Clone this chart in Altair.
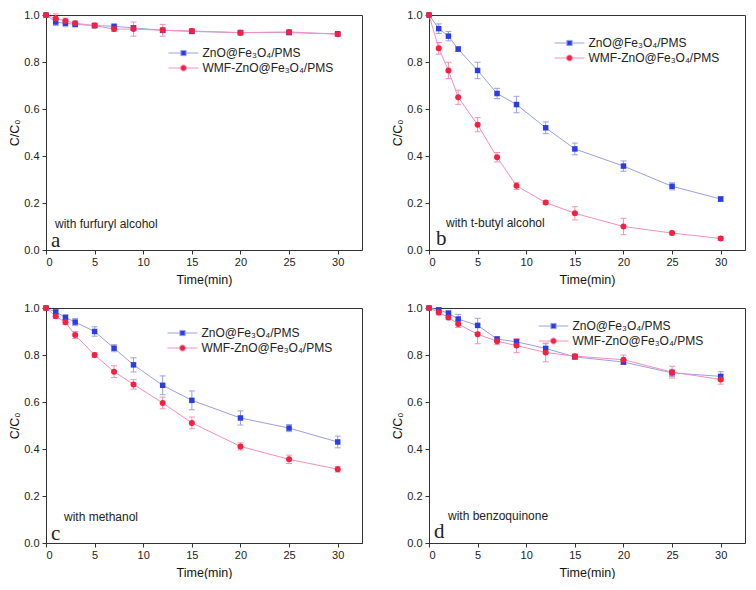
import altair as alt
import pandas as pd

time = [0, 1, 2, 3, 5, 7, 9, 12, 15, 20, 25, 30]
series_names = ["ZnO@Fe₃O₄/PMS", "WMF-ZnO@Fe₃O₄/PMS"]
series_keys = ["zno", "wmf"]

# panel a: with furfuryl alcohol
a_zno = [1.0, 0.97, 0.965, 0.96, 0.955, 0.952, 0.945, 0.935, 0.93, 0.925, 0.925, 0.92]
a_zno_err = [0, 0.015, 0.015, 0.01, 0.008, 0.006, 0.01, 0.01, 0.008, 0.006, 0.008, 0.006]
a_wmf = [1.0, 0.985, 0.975, 0.965, 0.955, 0.94, 0.94, 0.935, 0.932, 0.925, 0.928, 0.918]
a_wmf_err = [0, 0.02, 0.012, 0.01, 0.01, 0.01, 0.03, 0.025, 0.01, 0.01, 0.01, 0.008]

# panel b: with t-butyl alcohol
b_zno = [1.0, 0.942, 0.91, 0.855, 0.764, 0.666, 0.619, 0.52, 0.43, 0.357, 0.271, 0.217]
b_zno_err = [0, 0.02, 0.02, 0.01, 0.035, 0.022, 0.035, 0.025, 0.025, 0.022, 0.015, 0.01]
b_wmf = [1.0, 0.858, 0.764, 0.65, 0.533, 0.395, 0.273, 0.202, 0.156, 0.10, 0.072, 0.049]
b_wmf_err = [0, 0.025, 0.035, 0.03, 0.03, 0.02, 0.015, 0.008, 0.028, 0.035, 0.008, 0.008]

# panel c: with methanol
c_zno = [1.0, 0.983, 0.96, 0.94, 0.9, 0.829, 0.758, 0.671, 0.607, 0.532, 0.489, 0.43]
c_zno_err = [0, 0.01, 0.01, 0.015, 0.02, 0.015, 0.03, 0.04, 0.04, 0.03, 0.015, 0.025]
c_wmf = [1.0, 0.965, 0.939, 0.885, 0.8, 0.729, 0.675, 0.596, 0.511, 0.411, 0.356, 0.314]
c_wmf_err = [0, 0.01, 0.01, 0.015, 0.01, 0.025, 0.02, 0.025, 0.025, 0.015, 0.018, 0.012]

# panel d: with benzoquinone
d_zno = [1.0, 0.992, 0.978, 0.953, 0.926, 0.868, 0.856, 0.828, 0.792, 0.77, 0.724, 0.709]
d_zno_err = [0, 0.01, 0.01, 0.02, 0.03, 0.01, 0.01, 0.02, 0.01, 0.01, 0.015, 0.02]
d_wmf = [1.0, 0.981, 0.96, 0.932, 0.888, 0.859, 0.84, 0.811, 0.795, 0.78, 0.727, 0.696]
d_wmf_err = [0, 0.01, 0.01, 0.015, 0.04, 0.015, 0.03, 0.04, 0.01, 0.02, 0.025, 0.02]

panel_letters = ["a", "b", "c", "d"]
panel_notes = ["with furfuryl alcohol", "with t-butyl alcohol", "with methanol", "with benzoquinone"]
x_ticks = [0, 2.5, 5, 7.5, 10, 12.5, 15, 17.5, 20, 22.5, 25, 27.5, 30]
y_ticks = [0, 0.1, 0.2, 0.3, 0.4, 0.5, 0.6, 0.7, 0.8, 0.9, 1.0]

panel_data = [
    (a_zno, a_zno_err, a_wmf, a_wmf_err),
    (b_zno, b_zno_err, b_wmf, b_wmf_err),
    (c_zno, c_zno_err, c_wmf, c_wmf_err),
    (d_zno, d_zno_err, d_wmf, d_wmf_err),
]

W, H = 316, 235
FONT = "Liberation Sans"
MARKER = ["#2b3ce4", "#f32040"]
LINE = ["#9ca0e4", "#f590b8"]

# legend symbols: short line with marker in the middle
SQ_PATH = "M-2,0H-0.37M0.37,0H2M-0.35,-0.35H0.35V0.35H-0.35Z"
CI_PATH = "M-2,0H-0.42M0.42,0H2M0.4,0A0.4,0.4 0 1,1 -0.4,0A0.4,0.4 0 1,1 0.4,0Z"

# layout settings per panel (legend offset, note/letter positions in px)
legend_pos = [(122, 30), (125, 20), (121, 17), (109, 10)]
note_pos = [(9, 209), (17, 208), (18, 209), (19, 208)]
letter_pos = [(5, 226), (7, 224), (5, 226), (5, 224)]


def make_panel(i):
    zno, zno_e, wmf, wmf_e = panel_data[i]
    rows = []
    for s, k, vals, errs in ((series_names[0], series_keys[0], zno, zno_e),
                             (series_names[1], series_keys[1], wmf, wmf_e)):
        for t, v, e in zip(time, vals, errs):
            rows.append({"t": t, "v": v, "lo": v - e, "hi": v + e, "series": s, "key": k})
    df = pd.DataFrame(rows)
    base = alt.Chart(df)

    x_enc = alt.X(
        "t:Q",
        scale=alt.Scale(domain=[0, 32.5], nice=False, zero=False),
        axis=alt.Axis(
            title="Time(min)",
            values=x_ticks,
            labelExpr="datum.value % 5 === 0 ? datum.label : ''",
            tickSize={"condition": {"test": "datum.value % 5 === 0", "value": 4}, "value": 2},
            labelPadding=2,
            titlePadding=6,
        ),
    )
    y_enc = alt.Y(
        "v:Q",
        scale=alt.Scale(domain=[0, 1.0], nice=False),
        axis=alt.Axis(
            title="C/C₀",
            values=y_ticks,
            format=".1f",
            labelExpr="round(datum.value * 10) % 2 === 0 ? datum.label : ''",
            tickSize={"condition": {"test": "round(datum.value * 10) % 2 === 0", "value": 4}, "value": 2},
            labelPadding=3,
            titlePadding=2,
        ),
    )
    key_color = alt.Color("key:N", scale=alt.Scale(domain=series_keys, range=LINE), legend=None)

    lines = base.mark_line(strokeWidth=1).encode(
        x=x_enc, y=y_enc, color=key_color, order="t:Q",
    )
    err_rule = base.mark_rule(strokeWidth=1).encode(
        x="t:Q", y="lo:Q", y2="hi:Q", color=key_color,
    )
    cap_lo = base.mark_tick(orient="horizontal", size=6, thickness=1, opacity=1).encode(
        x="t:Q", y="lo:Q", color=key_color,
    )
    cap_hi = base.mark_tick(orient="horizontal", size=6, thickness=1, opacity=1).encode(
        x="t:Q", y="hi:Q", color=key_color,
    )
    squares = base.transform_filter(
        alt.datum.key == series_keys[0]
    ).mark_square(size=30, color=MARKER[0], opacity=1).encode(x="t:Q", y="v:Q")
    circles = base.transform_filter(
        alt.datum.key == series_keys[1]
    ).mark_circle(size=36, color=MARKER[1], opacity=1).encode(x="t:Q", y="v:Q")

    lx, ly = legend_pos[i]
    leg = alt.Legend(
        title=None, orient="none", legendX=lx, legendY=ly,
        symbolSize=225, symbolStrokeWidth=1, symbolOpacity=1, symbolOffset=7.5,
        labelFont=FONT, labelFontSize=12,
        labelColor="#222", labelOffset=11, rowPadding=1, padding=0,
    )
    # invisible carrier layer for the legend (line + marker symbols)
    legend_layer = base.mark_point(filled=True, opacity=0).encode(
        x="t:Q", y="v:Q",
        fill=alt.Fill("series:N", scale=alt.Scale(domain=series_names, range=MARKER), legend=leg),
        stroke=alt.Stroke("series:N", scale=alt.Scale(domain=series_names, range=LINE), legend=leg),
        shape=alt.Shape("series:N", scale=alt.Scale(domain=series_names, range=[SQ_PATH, CI_PATH]), legend=leg),
    )

    nx, ny = note_pos[i]
    note = alt.Chart(pd.DataFrame({"note": [panel_notes[i]]})).mark_text(
        align="left", baseline="middle", font=FONT, fontSize=12, color="#222"
    ).encode(x=alt.value(nx), y=alt.value(ny), text="note:N")
    tx, ty = letter_pos[i]
    letter = alt.Chart(pd.DataFrame({"letter": [panel_letters[i]]})).mark_text(
        align="left", baseline="middle", font="Liberation Serif", fontSize=21, color="#222"
    ).encode(x=alt.value(tx), y=alt.value(ty), text="letter:N")

    return alt.layer(
        lines, err_rule, cap_lo, cap_hi, squares, circles, legend_layer, note, letter
    ).properties(width=W, height=H)


panels = [make_panel(i) for i in range(4)]

chart = alt.concat(
    *panels, columns=2, spacing={"row": 15, "column": 28}
).resolve_scale(
    color="independent", fill="independent", stroke="independent", shape="independent"
).resolve_legend(
    fill="independent", stroke="independent", shape="independent"
).properties(
    padding=0, background="white"
).configure_view(
    stroke="#333", strokeWidth=1
).configure_axis(
    grid=False,
    domainColor="#333",
    tickColor="#333",
    labelColor="#222",
    titleColor="#111",
    labelFont=FONT,
    titleFont=FONT,
    labelFontSize=11,
    titleFontSize=12.5,
    titleFontWeight="normal",
)

chart.save("out.html", embed_options={"renderer": "svg", "actions": False})
